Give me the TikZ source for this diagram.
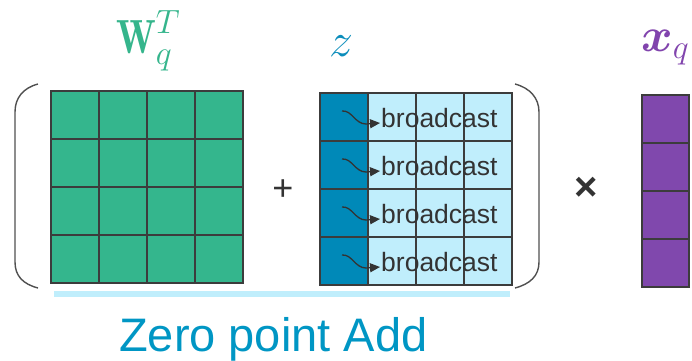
\RequirePackage{fix-cm}
\documentclass[tikz,border=0pt]{standalone}
\usepackage{fontspec}
\usepackage{amsmath,bm}
\newfontfamily\arial{Liberation Sans}
\usetikzlibrary{arrows.meta}
\definecolor{wgreen}{HTML}{34B68D}
\definecolor{wlabel}{HTML}{35B58C}
\definecolor{zdark}{HTML}{0089B8}
\definecolor{zlight}{HTML}{C0EEFC}
\definecolor{zlabel}{HTML}{0B8DBB}
\definecolor{xpurple}{HTML}{8048AD}
\definecolor{xlabel}{HTML}{8144AD}
\definecolor{gridc}{HTML}{3C3C3C}
\definecolor{capc}{HTML}{0096C4}
\definecolor{opc}{HTML}{333333}
\tikzset{
  cell/.style={draw=gridc, line width=1.4pt},
  paren/.style={draw=gridc!90, line width=1.4pt},
  bcast/.style={font=\arial\fontsize{26.5}{28}\selectfont, text=opc, inner sep=0pt, anchor=west},
  bcarrow/.style={draw=opc, line width=1.3pt, -{Triangle[length=10pt,width=9pt]}},
  mlabel/.style={font=\fontsize{48}{52}\selectfont, inner sep=0pt},
}
\begin{document}
\begin{tikzpicture}[x=1pt,y=-1pt]
\useasboundingbox (0,0) rectangle (692,360);
% W matrix
\foreach \i in {0,...,3}
  \foreach \j in {0,...,3}
    \draw[cell, fill=wgreen] (51+48*\i, 91+48*\j) rectangle ++(48,48);
% z matrix
\foreach \j in {0,...,3}{
  \draw[cell, fill=zdark] (320, 93+48*\j) rectangle ++(48,48);
  \foreach \i in {1,...,3}
    \draw[cell, fill=zlight] (320+48*\i, 93+48*\j) rectangle ++(48,48);
}
% x column
\foreach \j in {0,...,3}
  \draw[cell, fill=xpurple] (642, 95+48*\j) rectangle ++(47,48);
% broadcast labels and arrows
\foreach \j in {0,...,3}{
  \node[bcast] (b\j) at (381, 118+48*\j) {broadcast};
  \coordinate (s\j) at (342, 111+48*\j);
  \draw[bcarrow] (s\j) .. controls (352,110+48*\j) and (355,124+48*\j) .. (366,124+48*\j) -- ([xshift=-1pt,yshift=-5pt]b\j.west);
}
% parentheses
\draw[paren] (38,84) .. controls (23,88) and (15,98) .. (15,112) -- (15,262) .. controls (15,276) and (23,284) .. (38,288);
\draw[paren] (515,84) .. controls (530,88) and (539,98) .. (539,112) -- (539,262) .. controls (539,276) and (530,284) .. (515,288);
% operators
\node[font=\arial\fontsize{36}{40}\selectfont, text=opc, inner sep=0pt] (plus) at (283,190) {+};
\node[font=\arial\bfseries\fontsize{40}{42}\selectfont, text=opc, inner sep=0pt] (times) at (586,189) {×};
% labels
\node[mlabel, text=wlabel, anchor=base west] (wl) at (116,53) {$\scalebox{0.8}[1]{$\mathbf{W}$}_q^T$};
\node[mlabel, text=zlabel, anchor=base] (zl) at (341,56) {$z$};
\node[mlabel, text=xlabel, anchor=base west] (xl) at (641,51) {$\bm{x}_q$};
% underline
\fill[zlight] (54,291) rectangle (510,297);
\node[font=\arial\fontsize{47}{50}\selectfont, text=capc, inner sep=0pt, anchor=base west] (cap) at (119,351) {Zero point Add};
\end{tikzpicture}
\end{document}
